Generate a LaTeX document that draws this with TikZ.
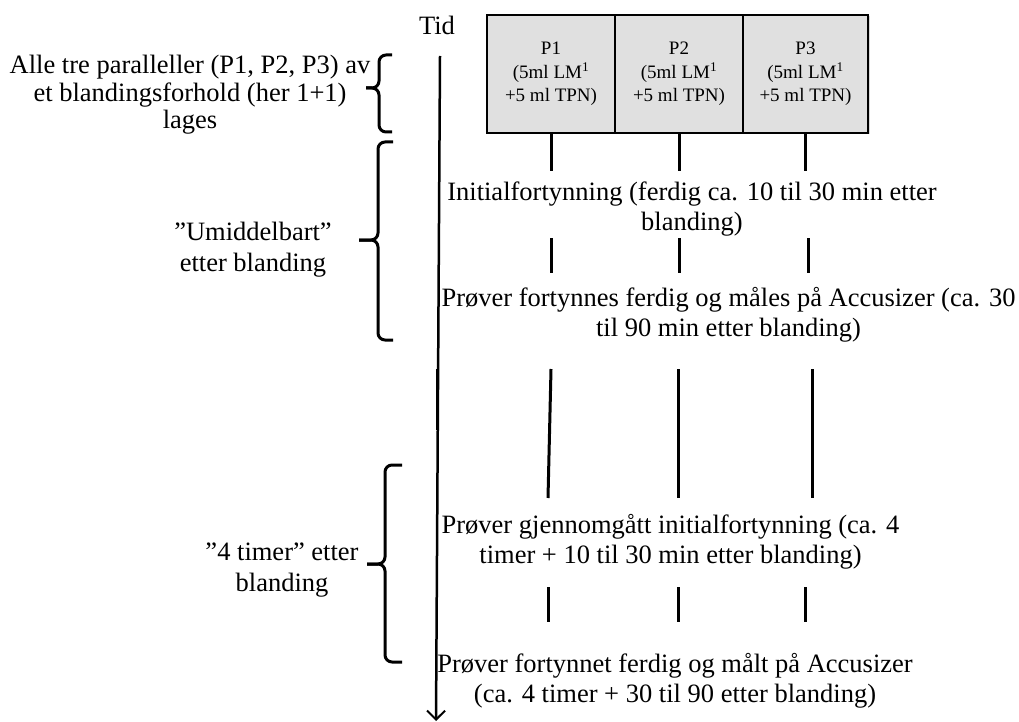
\documentclass[tikz,border=0pt]{standalone}
\usepackage{fontspec}
\setmainfont{Liberation Serif}
\usetikzlibrary{arrows.meta,shadows}
\definecolor{boxgray}{RGB}{224,224,224}
\newcommand\mybrace[6]{%
  \draw[bracestyle] (#6,#2) -- (#5,#2) -- (#5,#1) -- (#4,#1);
  \draw[bracestyle] (#6,#2) -- (#5,#2) -- (#5,#3) -- (#4,#3);}
\begin{document}
\begin{tikzpicture}[x=1pt,y=-1pt,
  txt/.style={inner sep=0pt,align=center,font=\fontsize{26.5}{30}\selectfont},
  pbox/.style={draw=black,line width=1.5pt,fill=boxgray,minimum height=118pt,
    inner sep=0pt,align=center,font=\fontsize{19}{23.5}\selectfont,
    drop shadow={shadow xshift=1.5pt,shadow yshift=-1.5pt,opacity=0.3}},
  tick/.style={line width=3pt},
  axis/.style={line width=2.5pt,-{Straight Barb[length=9pt,width=18pt,line width=2pt]}},
  bracestyle/.style={line width=3pt,rounded corners=7pt}]
\useasboundingbox[fill=white] (0,0) rectangle (1019,722);

% boxes
\node[pbox,minimum width=128pt] (p1) at (551,74) {P1\\(5ml LM\textsuperscript{1}\\+5 ml TPN)};
\node[pbox,minimum width=128pt] (p2) at (679,74) {P2\\(5ml LM\textsuperscript{1}\\+5 ml TPN)};
\node[pbox,minimum width=125pt] (p3) at (805.5,74) {P3\\(5ml LM\textsuperscript{1}\\+5 ml TPN)};

% time axis
\node[inner sep=0pt,anchor=base,font=\fontsize{26.5}{30}\selectfont] (tid) at (437,35) {Tid};
\coordinate (axtop) at (440,56);
\coordinate (axbot) at (436,721);
\draw[axis] (axtop) -- (axbot);

% texts
\node[txt] (t1) at (692,209) {Initialfortynning (ferdig ca. 10 til 30 min etter\\blanding)};
\node[txt] (t2) at (728.5,315) {Prøver fortynnes ferdig og måles på Accusizer (ca. 30\\til 90 min etter blanding)};
\node[txt] (t3) at (670.5,542) {Prøver gjennomgått initialfortynning (ca. 4\\timer + 10 til 30 min etter blanding)};
\node[txt] (t4) at (675,681) {Prøver fortynnet ferdig og målt på Accusizer\\(ca. 4 timer + 30 til 90 etter blanding)};

\node[txt,font=\fontsize{26.5}{27.5}\selectfont] (l1) at (190,95) {Alle tre paralleller (P1, P2, P3) av\\et blandingsforhold (her 1+1)\\lages};
\node[txt,font=\fontsize{26.5}{31}\selectfont] (l2) at (253,250) {”Umiddelbart”\\etter blanding};
\node[txt,font=\fontsize{26.5}{31}\selectfont] (l3) at (282,570) {”4 timer” etter\\blanding};

% braces
\mybrace{55}{88}{132}{392}{379}{366}
\mybrace{142}{240}{340}{393}{378}{359}
\mybrace{465}{564}{662}{402}{385}{367}

% ticks row 1
\draw[tick] (p1.south) -- ++(0,37);
\draw[tick] (p2.south) -- ++(0,37);
\draw[tick] (p3.south) -- ++(0,37);
% ticks row 2
\foreach \x/\n in {551/1,679/2,808/3}{
  \coordinate (ra\n) at (\x,238); \coordinate (rb\n) at (\x,273);
  \draw[tick] (ra\n) -- (rb\n);}
% ticks row 3 (long)
\coordinate (sa0) at (437,369); \coordinate (sb0) at (437,430);
\coordinate (sa1) at (551,369); \coordinate (sb1) at (548,498);
\coordinate (sa2) at (678,369); \coordinate (sb2) at (678,498);
\coordinate (sa3) at (812,369); \coordinate (sb3) at (812,498);
\foreach \n in {0,1,2,3}{\draw[tick] (sa\n) -- (sb\n);}
% ticks row 5
\foreach \x/\n in {548/1,678/2,805/3}{
  \coordinate (qa\n) at (\x,587); \coordinate (qb\n) at (\x,622);
  \draw[tick] (qa\n) -- (qb\n);}
\end{tikzpicture}
\end{document}
